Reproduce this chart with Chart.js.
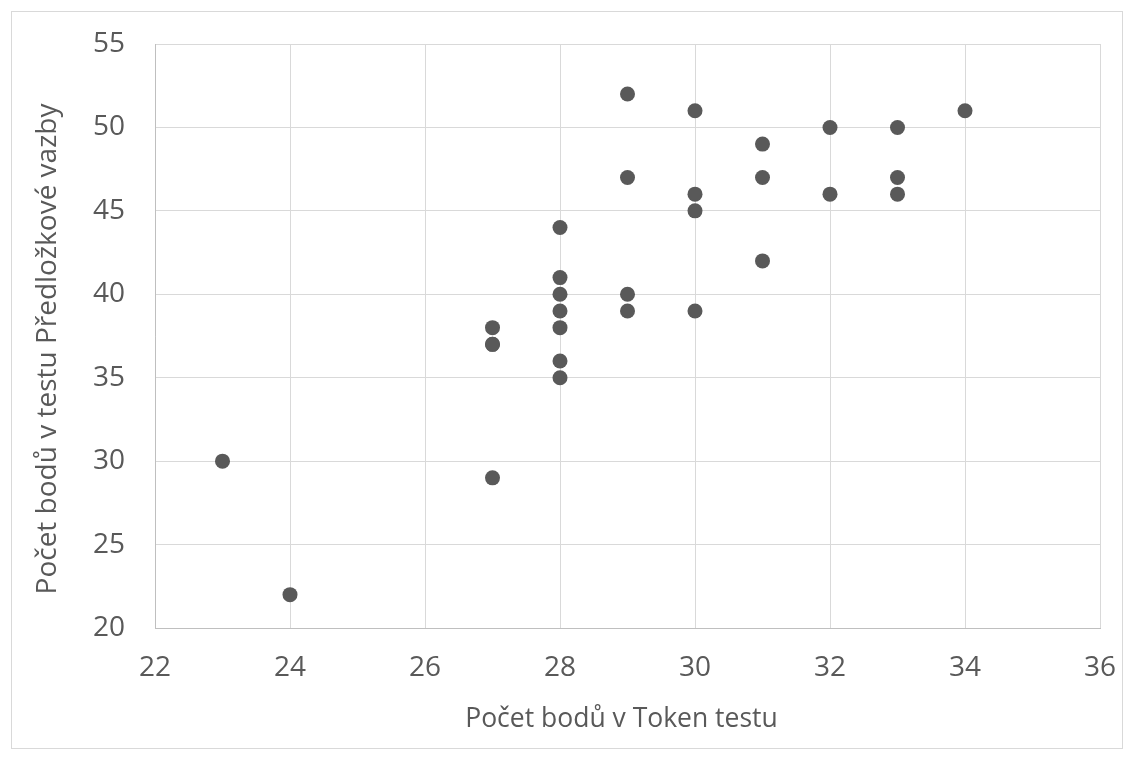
<!DOCTYPE html>
<html>
<head>
<meta charset="utf-8">
<script src="https://cdn.jsdelivr.net/npm/chart.js@4/dist/chart.umd.min.js"></script>
<style>
html,body{margin:0;padding:0;background:#fff;}
#wrap{width:1134px;height:760px;position:relative;}
</style>
</head>
<body>
<div id="wrap"><canvas id="c" width="1134" height="760"></canvas></div>
<script>
const tokenScores = [23, 24, 27, 27, 27, 27, 28, 28, 28, 28, 28, 28, 28, 29, 29, 29, 29, 30, 30, 30, 30, 31, 31, 31, 32, 32, 33, 33, 33, 34];
const prepScores  = [30, 22, 38, 37, 37, 29, 44, 41, 40, 39, 38, 36, 35, 52, 47, 40, 39, 51, 46, 45, 39, 49, 47, 42, 50, 46, 50, 47, 46, 51];
const xTitle = 'Počet bodů v Token testu';
const yTitle = 'Počet bodů v testu Předložkové vazby';
const xRange = [22, 36];
const yRange = [20, 55];

const points = tokenScores.map((x, i) => ({x: x, y: prepScores[i]}));
const textColor = '#595959';
const fontFam = '"Open Sans", "Liberation Sans", sans-serif';

const borderPlugin = {
  id: 'outerBorder',
  beforeDraw(chart) {
    const ctx = chart.ctx;
    ctx.save();
    ctx.fillStyle = '#fff';
    ctx.fillRect(0, 0, chart.width, chart.height);
    ctx.strokeStyle = '#d9d9d9';
    ctx.lineWidth = 1;
    ctx.strokeRect(11.5, 11.5, 1111, 737);
    ctx.restore();
  }
};

function zeroPad(s) {
  s.paddingTop = 0; s.paddingBottom = 0; s.paddingLeft = 0; s.paddingRight = 0;
}
function shiftTitle(s, dx, dy) {
  if (s._titleShifted) return;
  s._titleShifted = true;
  const orig = s.drawTitle;
  s.drawTitle = function () {
    const ctx = this.ctx;
    ctx.save();
    ctx.translate(dx, dy);
    orig.apply(this, arguments);
    ctx.restore();
  };
}

new Chart(document.getElementById('c'), {
  type: 'scatter',
  data: {
    datasets: [{
      data: points,
      backgroundColor: '#595959',
      borderColor: '#595959',
      pointRadius: 7.5,
      pointHoverRadius: 7.5,
      borderWidth: 0
    }]
  },
  options: {
    responsive: false,
    animation: false,
    devicePixelRatio: 1,
    layout: { padding: { left: 20, top: 44, right: 34, bottom: 28 } },
    plugins: { legend: { display: false }, tooltip: { enabled: false } },
    scales: {
      x: {
        type: 'linear',
        min: xRange[0], max: xRange[1],
        afterFit(s) { s.height = 104; zeroPad(s); shiftTitle(s, -6, 3); },
        ticks: { stepSize: 2, color: textColor, font: { family: fontFam, size: 28 }, padding: 23 },
        grid: { color: '#d9d9d9', lineWidth: 1, drawTicks: false },
        border: { color: '#bfbfbf', width: 1 },
        title: { display: true, text: xTitle, color: textColor, font: { family: fontFam, size: 26.5 }, padding: { top: 0, bottom: 0 } }
      },
      y: {
        type: 'linear',
        min: yRange[0], max: yRange[1],
        afterFit(s) { s.width = 135; zeroPad(s); shiftTitle(s, 0, 13); },
        ticks: { stepSize: 5, color: textColor, font: { family: fontFam, size: 28 }, padding: 30 },
        grid: { color: '#d9d9d9', lineWidth: 1, drawTicks: false },
        border: { color: '#bfbfbf', width: 1 },
        title: { display: true, text: yTitle, color: textColor, font: { family: fontFam, size: 28 }, padding: { top: 11, bottom: 0 } }
      }
    }
  },
  plugins: [borderPlugin]
});
</script>
</body>
</html>
